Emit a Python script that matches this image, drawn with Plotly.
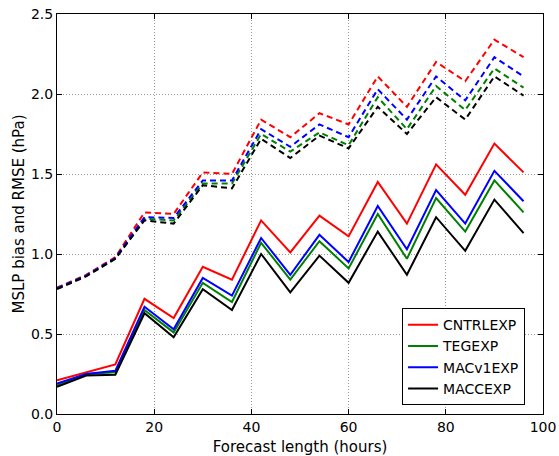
import plotly.graph_objects as go

hours = [0, 6, 12, 18, 24, 30, 36, 42, 48, 54, 60, 66, 72, 78, 84, 90, 96]

names = ["CNTRLEXP", "TEGEXP", "MACv1EXP", "MACCEXP"]
colors = ["#ff0000", "#008000", "#0000ff", "#000000"]

# Bias (solid lines)
bias_cntrl = [0.21, 0.26, 0.31, 0.72, 0.60, 0.92, 0.84, 1.21, 1.01, 1.24, 1.11, 1.45, 1.19, 1.56, 1.37, 1.69, 1.51]
bias_teg   = [0.18, 0.25, 0.26, 0.65, 0.51, 0.82, 0.70, 1.07, 0.84, 1.08, 0.91, 1.25, 0.97, 1.35, 1.14, 1.46, 1.26]
bias_macv1 = [0.19, 0.25, 0.27, 0.67, 0.53, 0.85, 0.74, 1.10, 0.87, 1.12, 0.95, 1.30, 1.03, 1.40, 1.19, 1.52, 1.33]
bias_macc  = [0.17, 0.24, 0.245, 0.63, 0.48, 0.78, 0.65, 1.00, 0.76, 0.99, 0.82, 1.14, 0.87, 1.23, 1.02, 1.34, 1.13]

# RMSE (dashed lines)
rmse_cntrl = [0.79, 0.87, 0.98, 1.26, 1.25, 1.51, 1.50, 1.84, 1.73, 1.88, 1.81, 2.11, 1.92, 2.20, 2.08, 2.34, 2.23]
rmse_teg   = [0.785, 0.865, 0.97, 1.22, 1.21, 1.44, 1.44, 1.75, 1.64, 1.76, 1.68, 1.98, 1.78, 2.05, 1.90, 2.16, 2.04]
rmse_macv1 = [0.785, 0.865, 0.975, 1.23, 1.225, 1.46, 1.46, 1.78, 1.67, 1.81, 1.73, 2.03, 1.84, 2.11, 1.96, 2.23, 2.11]
rmse_macc  = [0.78, 0.86, 0.97, 1.21, 1.19, 1.43, 1.41, 1.72, 1.60, 1.74, 1.66, 1.92, 1.75, 1.98, 1.84, 2.11, 1.99]

bias = [bias_cntrl, bias_teg, bias_macv1, bias_macc]
rmse = [rmse_cntrl, rmse_teg, rmse_macv1, rmse_macc]

fig = go.Figure()

for n, c, r in zip(names, colors, rmse):
    fig.add_trace(go.Scatter(x=hours, y=r, mode="lines", name=n + " RMSE",
                             line=dict(color=c, width=2, dash="6px,4px"),
                             showlegend=False))
for n, c, b in zip(names, colors, bias):
    fig.add_trace(go.Scatter(x=hours, y=b, mode="lines", name=n,
                             line=dict(color=c, width=2)))

fig.update_layout(
    width=559, height=456,
    margin=dict(l=57, r=16, t=14, b=42),
    paper_bgcolor="white", plot_bgcolor="white",
    font=dict(family="DejaVu Sans", size=14, color="black"),
    showlegend=True,
    legend=dict(x=0.71, y=0.022, xanchor="left", yanchor="bottom",
                bordercolor="black", borderwidth=1, bgcolor="white",
                font=dict(family="DejaVu Sans", size=14),
                tracegroupgap=0, itemwidth=30),
)

axis_common = dict(
    showline=True, linecolor="black", linewidth=1, mirror="ticks",
    ticks="inside", ticklen=5, tickcolor="black",
    tickfont=dict(family="DejaVu Sans", size=14),
    showgrid=True, gridcolor="#999999", griddash="1px,2px", gridwidth=1,
    zeroline=False, automargin=False,
)

fig.update_xaxes(range=[0, 100], tickvals=[0, 20, 40, 60, 80, 100],
                 title=dict(text="Forecast length (hours)", standoff=7,
                            font=dict(family="DejaVu Sans", size=15)),
                 **axis_common)
fig.update_yaxes(range=[0, 2.5], tickvals=[0, 0.5, 1.0, 1.5, 2.0, 2.5],
                 ticktext=["0.0", "0.5", "1.0", "1.5", "2.0", "2.5"],
                 title=dict(text="MSLP bias and RMSE (hPa)", standoff=2,
                            font=dict(family="DejaVu Sans", size=15)),
                 **axis_common)

fig.write_html("out.html", config={"displayModeBar": False},
               post_script="document.body.style.margin='0';")
